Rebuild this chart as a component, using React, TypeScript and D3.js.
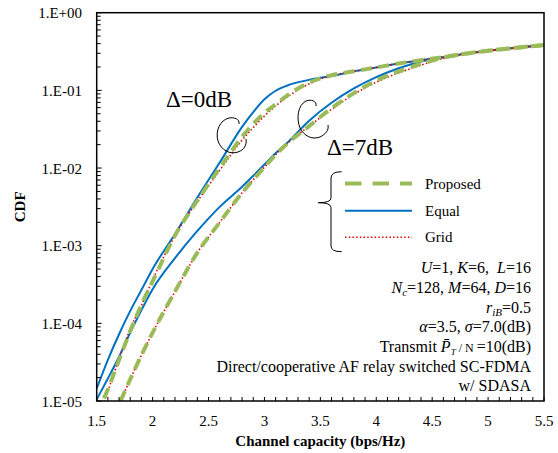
import React from "react";
import * as d3 from "d3";

// Channel capacity grid (bps/Hz)
const capacity = [1.5, 1.6, 1.7, 1.8, 1.9, 2.0, 2.2, 2.4, 2.6, 2.8, 2.9, 3.0, 3.1, 3.2, 3.4, 3.6, 3.8, 4.0, 4.2, 4.4, 4.6, 4.8, 5.0, 5.25, 5.5];

// log10(CDF)
const equalD0 = [-4.84, -4.47, -4.14, -3.84, -3.57, -3.30, -2.85, -2.38, -1.93, -1.47, -1.28, -1.115, -1.005, -0.94, -0.865, -0.815, -0.755, -0.705, -0.655, -0.612, -0.573, -0.527, -0.49, -0.452, -0.416];
const proposedD0 = [-5.17, -4.85, -4.47, -4.10, -3.76, -3.46, -2.87, -2.42, -2.0, -1.60, -1.43, -1.29, -1.18, -1.07, -0.90, -0.805, -0.755, -0.705, -0.655, -0.612, -0.573, -0.527, -0.49, -0.452, -0.416];
const gridD0 = [-5.28, -4.87, -4.46, -4.07, -3.77, -3.44, -2.87, -2.43, -2.03, -1.64, -1.48, -1.33, -1.20, -1.09, -0.915, -0.81, -0.757, -0.705, -0.655, -0.612, -0.573, -0.527, -0.49, -0.452, -0.416];
const equalD7 = [-4.98, -4.71, -4.43, -4.12, -3.83, -3.56, -3.16, -2.81, -2.50, -2.24, -2.10, -1.955, -1.81, -1.68, -1.39, -1.16, -0.975, -0.83, -0.715, -0.628, -0.573, -0.527, -0.49, -0.452, -0.416];
const proposedD7 = [-5.85, -5.45, -5.05, -4.72, -4.41, -4.12, -3.59, -3.09, -2.70, -2.32, -2.15, -1.99, -1.83, -1.69, -1.46, -1.23, -1.035, -0.875, -0.755, -0.66, -0.578, -0.527, -0.49, -0.452, -0.416];
const gridD7 = [-5.85, -5.45, -5.05, -4.72, -4.41, -4.12, -3.59, -3.09, -2.70, -2.32, -2.15, -1.99, -1.83, -1.69, -1.46, -1.245, -1.05, -0.895, -0.775, -0.675, -0.59, -0.535, -0.492, -0.452, -0.416];

const xTicks = [1.5, 2, 2.5, 3, 3.5, 4, 4.5, 5, 5.5];
const xTickLabels = ["1.5", "2", "2.5", "3", "3.5", "4", "4.5", "5", "5.5"];
const yTicks = [1e-5, 1e-4, 1e-3, 1e-2, 1e-1, 1];
const yTickLabels = ["1.E-05", "1.E-04", "1.E-03", "1.E-02", "1.E-01", "1.E+00"];
const legendLabels = ["Proposed", "Equal", "Grid"];

const FONT = "'Liberation Serif', 'Times New Roman', serif";
const GREEN = "#9BBB59";
const BLUE = "#0070C0";
const RED = "#E00000";

export default function App() {
  const W = 558, H = 453;
  const L = 96.7, R = 544, T = 12.7, B = 401;
  const x = d3.scaleLinear().domain([1.5, 5.5]).range([L, R]);
  const y = d3.scaleLog().domain([1e-5, 1]).range([B, T]);

  const line = (vals: number[]) =>
    d3.line<number>()
      .x((_, i) => x(capacity[i]))
      .y((v) => y(Math.pow(10, v)))
      .curve(d3.curveMonotoneX)(vals) || "";

  const minorY: number[] = [];
  for (let k = -5; k < 0; k++) for (let m = 2; m <= 9; m++) minorY.push(m * Math.pow(10, k));
  const minorX = d3.range(15, 56).map((i) => i / 10);

  const legendY = [183.5, 210.7, 237.3];
  const paramX = 531;

  return (
    <div style={{ position: "absolute", left: 0, top: 0 }}>
      <svg width={W} height={H} style={{ display: "block", background: "#fff" }} fontFamily={FONT}>
        <defs>
          <clipPath id="plot">
            <rect x={L} y={T} width={R - L} height={B - T} />
          </clipPath>
        </defs>
        <rect x={0} y={0} width={W} height={H} fill="#fff" />

        {/* curves */}
        <g clipPath="url(#plot)" fill="none">
          <path d={line(equalD0)} stroke={BLUE} strokeWidth={2} />
          <path d={line(equalD7)} stroke={BLUE} strokeWidth={2} />
          <path d={line(gridD0)} stroke={RED} strokeWidth={1.6} strokeDasharray="1.5,2.2" />
          <path d={line(gridD7)} stroke={RED} strokeWidth={1.6} strokeDasharray="1.5,2.2" />
          <path d={line(proposedD0)} stroke={GREEN} strokeWidth={4} strokeDasharray="11,6.5" />
          <path d={line(proposedD7)} stroke={GREEN} strokeWidth={4} strokeDasharray="11,6.5" />
        </g>

        {/* frame */}
        <rect x={L} y={T} width={R - L} height={B - T} fill="none" stroke="#000" strokeWidth={1.5} />

        {/* y ticks */}
        {yTicks.map((t, i) => (
          <g key={"yt" + i}>
            <line x1={L} x2={L + 5} y1={y(t)} y2={y(t)} stroke="#000" strokeWidth={1} />
            <text x={82} y={y(t) + 5.5} fontSize={15} textAnchor="end">{yTickLabels[i]}</text>
          </g>
        ))}
        {minorY.map((t, i) => (
          <line key={"ym" + i} x1={L} x2={L + 4} y1={y(t)} y2={y(t)} stroke="#000" strokeWidth={1} />
        ))}

        {/* x ticks */}
        {minorX.map((t, i) => (
          <line key={"xm" + i} x1={x(t)} x2={x(t)} y1={B} y2={B - 4} stroke="#000" strokeWidth={1} />
        ))}
        {xTicks.map((t, i) => (
          <text key={"xt" + i} x={x(t)} y={426} fontSize={15} textAnchor="middle">{xTickLabels[i]}</text>
        ))}

        {/* axis titles */}
        <text x={(L + R) / 2} y={446} fontSize={15} fontWeight="bold" textAnchor="middle">Channel capacity (bps/Hz)</text>
        <text transform={`translate(25,${(T + B) / 2}) rotate(-90)`} fontSize={15} fontWeight="bold" textAnchor="middle">CDF</text>

        {/* delta annotations */}
        <text x={166} y={107} fontSize={23}>Δ=0dB</text>
        <path d="M 239,124 C 240,119 234,117 229,118 C 220,120 215,131 218,141 C 221,150 230,155 238,152 C 244,150 247,145 246,139" fill="none" stroke="#000" strokeWidth={1} />
        <text x={327} y={155} fontSize={23}>Δ=7dB</text>
        <path d="M 316,106 C 317,101 311,99 306,101 C 298,105 296,118 300,128 C 304,136 312,140 320,137 C 326,134 329,130 328,125" fill="none" stroke="#000" strokeWidth={1} />

        {/* legend */}
        <path d="M 341.7,171.7 Q 331,171.7 331,178 L 331,198 Q 331,202.7 318.3,202.7 Q 331,202.7 331,207.5 L 331,246 Q 331,251.7 341.7,251.7" fill="none" stroke="#000" strokeWidth={1} />
        <line x1={345} x2={412} y1={legendY[0]} y2={legendY[0]} stroke={GREEN} strokeWidth={4} strokeDasharray="16.5,11" />
        <line x1={345} x2={412} y1={legendY[1]} y2={legendY[1]} stroke={BLUE} strokeWidth={2} />
        <line x1={345} x2={412} y1={legendY[2]} y2={legendY[2]} stroke={RED} strokeWidth={1.6} strokeDasharray="1.5,2.2" />
        {legendLabels.map((s, i) => (
          <text key={"lg" + i} x={425} y={legendY[i] + 5} fontSize={15}>{s}</text>
        ))}

        {/* parameters */}
        <g fontSize={16} textAnchor="end">
          <text x={paramX} y={273}>
            <tspan fontStyle="italic">U</tspan>=1, <tspan fontStyle="italic">K</tspan>=6,{"\u00A0\u00A0"}<tspan fontStyle="italic">L</tspan>=16
          </text>
          <text x={paramX} y={293}>
            <tspan fontStyle="italic">N</tspan><tspan fontStyle="italic" fontSize={11} dy={3}>c</tspan><tspan dy={-3}>=128, </tspan><tspan fontStyle="italic">M</tspan>=64, <tspan fontStyle="italic">D</tspan>=16
          </text>
          <text x={paramX} y={312.5}>
            <tspan fontStyle="italic">r</tspan><tspan fontStyle="italic" fontSize={11} dy={3}>iB</tspan><tspan dy={-3}>=0.5</tspan>
          </text>
          <text x={paramX} y={332}>
            <tspan fontStyle="italic">α</tspan>=3.5, <tspan fontStyle="italic">σ</tspan>=7.0(dB)
          </text>
          <text x={paramX} y={351.5}>
            Transmit <tspan fontStyle="italic">P̄</tspan><tspan fontStyle="italic" fontSize={9} dy={3}>T</tspan><tspan dy={-3} fontSize={12}> / N </tspan>=10(dB)
          </text>
          <text x={paramX} y={371.5}>Direct/cooperative AF relay switched SC-FDMA</text>
          <text x={paramX} y={391}>w/ SDASA</text>
        </g>
      </svg>
    </div>
  );
}
